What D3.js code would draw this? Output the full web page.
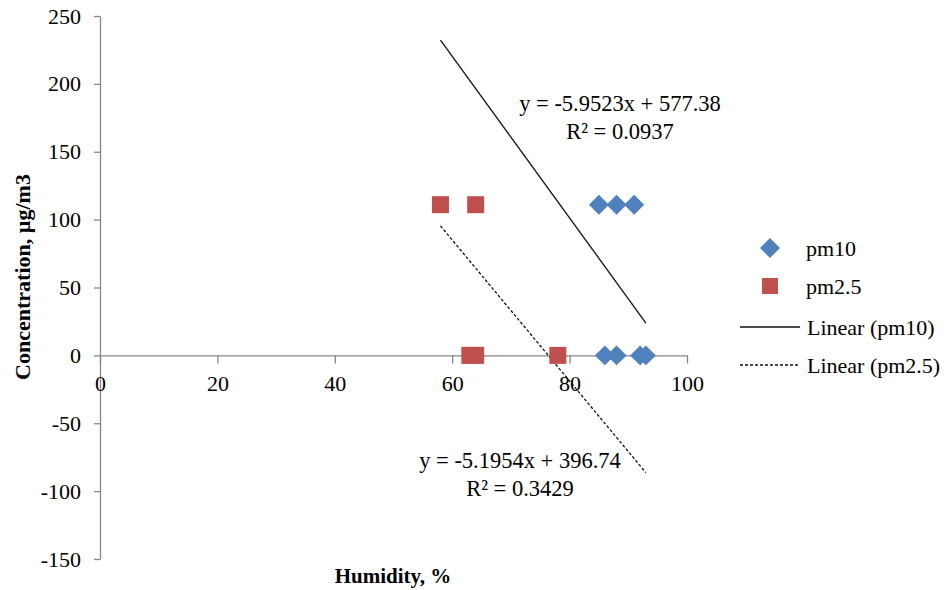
<!DOCTYPE html>
<html>
<head>
<meta charset="utf-8">
<title>humidity vs concentration</title>
<script src="https://d3js.org/d3.v7.min.js"></script>
<style>
  body { margin: 0; background: #fff; }
  svg text { font-family: 'Liberation Serif', 'Times New Roman', serif !important; fill: #000; }
</style>
</head>
<body>
<div id="chart"></div>
<script>
// data
var pm10Humidity = [85, 88, 91, 86, 88, 92, 93]
var pm10Values = [111, 111, 111, 0, 0, 0, 0]
var pm25Humidity = [58, 64, 63, 64, 78]
var pm25Values = [111, 111, 0, 0, 0]

// trend lines (excel linear fit, as printed on chart)
var seriesNames = ["pm10", "pm2.5"]
var trendSlopes = [-5.9523, -5.1954]
var trendIntercepts = [577.38, 396.74]
var trendRange = [58, 93]
var trendLabels = ["y = -5.9523x + 577.38", "y = -5.1954x + 396.74"]
var r2Labels = ["R\u00b2 = 0.0937", "R\u00b2 = 0.3429"]

var xTicks = [0, 20, 40, 60, 80, 100]
var yTicks = [-150, -100, -50, 0, 50, 100, 150, 200, 250]

var width = 947, height = 590

var svg = d3.select("#chart").append("svg")
  .attr("width", width)
  .attr("height", height)
  .style("font-family", "'Liberation Serif', serif")

var x = d3.scaleLinear().domain([0, 100]).range([100, 687])
var y = d3.scaleLinear().domain([-150, 250]).range([559, 16])

var axisColor = "#868686"
var plain = function(d) { return String(d) }  // keep ascii hyphen for negatives

// y axis
var yAxis = svg.append("g")
  .attr("transform", "translate(" + x(0) + ",0)")
  .call(d3.axisLeft(y).tickValues(yTicks).tickFormat(plain).tickSize(6).tickSizeOuter(0).tickPadding(13))
yAxis.attr("font-family", null).attr("font-size", null)
yAxis.selectAll("path, line").attr("stroke", axisColor).attr("stroke-width", 1.3)
yAxis.selectAll("text").style("font-size", "22px")

// x axis sits on y = 0
var xAxis = svg.append("g")
  .attr("transform", "translate(0," + y(0) + ")")
  .call(d3.axisBottom(x).tickValues(xTicks).tickFormat(plain).tickSize(8).tickSizeOuter(0).tickPadding(12))
xAxis.attr("font-family", null).attr("font-size", null)
xAxis.selectAll("path, line").attr("stroke", axisColor).attr("stroke-width", 1.3)
xAxis.selectAll("text").style("font-size", "22px")

// trend lines
seriesNames.forEach(function(name, i) {
  var pts = trendRange.map(function(h) { return [h, trendSlopes[i] * h + trendIntercepts[i]] })
  svg.append("path")
    .datum(pts)
    .attr("fill", "none")
    .attr("stroke", "#111")
    .attr("stroke-width", 1.3)
    .attr("stroke-dasharray", i == 1 ? "3,2" : null)
    .attr("d", d3.line().x(function(d) { return x(d[0]) }).y(function(d) { return y(d[1]) }))
})

// pm10 diamonds
var diamond = d3.symbol().type(d3.symbolSquare).size(200)
svg.selectAll(".pm10")
  .data(pm10Humidity.map(function(h, i) { return {h: h, v: pm10Values[i]} }))
  .enter().append("path")
  .attr("class", "pm10")
  .attr("d", diamond)
  .attr("fill", "#4F81BD")
  .attr("transform", function(d) { return "translate(" + x(d.h) + "," + y(d.v) + ") rotate(45)" })

// pm2.5 squares
svg.selectAll(".pm25")
  .data(pm25Humidity.map(function(h, i) { return {h: h, v: pm25Values[i]} }))
  .enter().append("rect")
  .attr("class", "pm25")
  .attr("x", function(d) { return x(d.h) - 8.5 })
  .attr("y", function(d) { return y(d.v) - 8.5 })
  .attr("width", 17)
  .attr("height", 17)
  .attr("fill", "#C0504D")

// equation labels
var labelPos = [[620, 103], [520, 460]]
labelPos.forEach(function(p, i) {
  svg.append("text").attr("x", p[0]).attr("y", p[1]).attr("dy", "0.35em")
    .attr("text-anchor", "middle").style("font-size", "22.5px").text(trendLabels[i])
  svg.append("text").attr("x", p[0]).attr("y", p[1] + 28).attr("dy", "0.35em")
    .attr("text-anchor", "middle").style("font-size", "22.5px").text(r2Labels[i])
})

// axis titles
svg.append("text")
  .attr("transform", "translate(30,277) rotate(-90)")
  .attr("text-anchor", "middle")
  .style("font-size", "22px").attr("font-weight", "bold")
  .text("Concentration, \u00b5g/m3")

svg.append("text")
  .attr("x", 393).attr("y", 583)
  .attr("text-anchor", "middle")
  .style("font-size", "21px").attr("font-weight", "bold")
  .text("Humidity, %")

// legend
var legend = svg.append("g")
var legY = [248, 286, 327, 365]
legend.append("path").attr("d", diamond).attr("fill", "#4F81BD")
  .attr("transform", "translate(770," + legY[0] + ") rotate(45)")
legend.append("rect").attr("x", 762).attr("y", legY[1] - 8).attr("width", 16).attr("height", 16).attr("fill", "#C0504D")
legend.append("line").attr("x1", 740).attr("x2", 800).attr("y1", legY[2]).attr("y2", legY[2])
  .attr("stroke", "#111").attr("stroke-width", 1.3)
legend.append("line").attr("x1", 740).attr("x2", 800).attr("y1", legY[3]).attr("y2", legY[3])
  .attr("stroke", "#111").attr("stroke-width", 1.3).attr("stroke-dasharray", "3,2")
var legText = ["pm10", "pm2.5", "Linear (pm10)", "Linear (pm2.5)"]
legText.forEach(function(t, i) {
  legend.append("text").attr("x", i < 2 ? 806 : 807).attr("y", legY[i]).attr("dy", "0.35em")
    .style("font-size", "22px").text(t)
})
</script>
</body>
</html>
